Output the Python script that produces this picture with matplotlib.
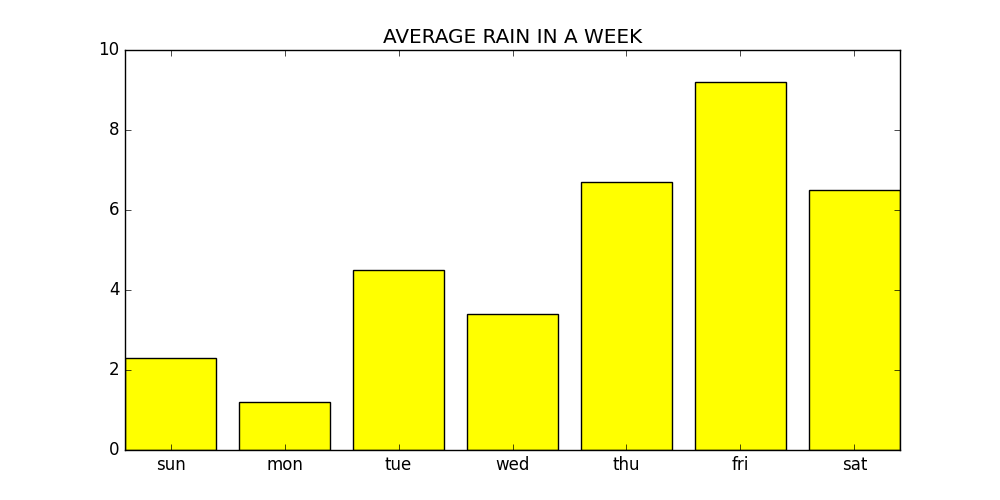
import matplotlib

matplotlib.use("Agg")
import matplotlib.pyplot as plt

days = ["sun", "mon", "tue", "wed", "thu", "fri", "sat"]
rain = [2.3, 1.2, 4.5, 3.4, 6.7, 9.2, 6.5]

plt.style.use("classic")
fig, ax = plt.subplots(figsize=(10, 5), dpi=100)
fig.subplots_adjust(left=0.125, right=0.9, bottom=0.1, top=0.9)

pos = list(range(len(days)))
ax.bar(pos, rain, width=0.8, align="edge", color="yellow", edgecolor="black")
ax.set_xticks([p + 0.4 for p in pos])
ax.set_xticklabels(days)
ax.set_xlim(0, len(days) - 0.2)
ax.set_ylim(0, 10)
ax.set_title("AVERAGE RAIN IN A WEEK")

fig.savefig("out.png", dpi=100)
